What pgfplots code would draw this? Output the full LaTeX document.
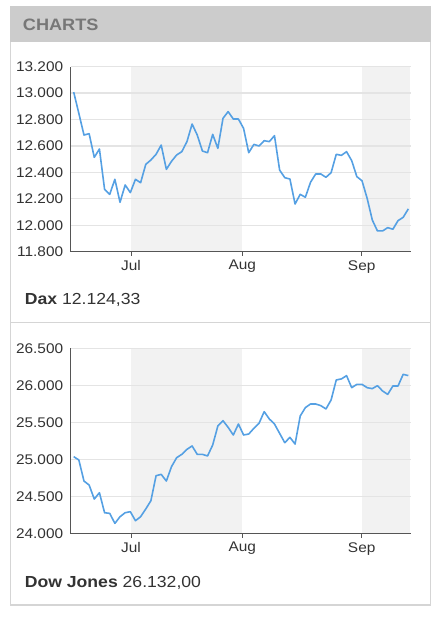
\documentclass[border=0pt]{standalone}
\usepackage{fontspec}
\setmainfont{Liberation Sans}[FakeStretch=1.1]
\usepackage{pgfplots}
\pgfplotsset{compat=1.18}
\usepackage{pgfplotstable}

\definecolor{linecol}{HTML}{55A0E3}
\definecolor{gridcol}{HTML}{E4E4E4}
\definecolor{bandcol}{HTML}{F2F2F2}
\definecolor{axiscol}{HTML}{555555}
\definecolor{txtcol}{HTML}{333333}
\definecolor{headcol}{HTML}{CCCCCC}
\definecolor{headtxt}{HTML}{777777}
\definecolor{bordercol}{HTML}{D5D5D5}

\pgfplotstableread{
i v
0 13008
1 12847
2 12683
3 12693
4 12514
5 12577
6 12272
7 12234
8 12348
9 12174
10 12305
11 12247
12 12348
13 12322
14 12461
15 12494
16 12537
17 12607
18 12423
19 12484
20 12532
21 12557
22 12633
23 12766
24 12683
25 12562
26 12549
27 12688
28 12582
29 12809
30 12860
31 12804
32 12804
33 12733
34 12549
35 12612
36 12600
37 12640
38 12633
39 12678
40 12418
41 12360
42 12350
43 12161
44 12234
45 12212
46 12325
47 12388
48 12388
49 12363
50 12398
51 12537
52 12529
53 12557
54 12489
55 12368
56 12337
57 12204
58 12040
59 11957
60 11957
61 11982
62 11970
63 12035
64 12060
65 12124
}\daxtable

\pgfplotstableread{
i v
0 25039
1 24994
2 24710
3 24656
4 24467
5 24553
6 24283
7 24274
8 24139
9 24229
10 24283
11 24297
12 24175
13 24229
14 24333
15 24445
16 24782
17 24800
18 24710
19 24904
20 25025
21 25070
22 25137
23 25183
24 25070
25 25070
26 25048
27 25196
28 25452
29 25524
30 25434
31 25331
32 25479
33 25331
34 25344
35 25421
36 25488
37 25646
38 25547
39 25479
40 25353
41 25227
42 25299
43 25209
44 25587
45 25700
46 25749
47 25749
48 25727
49 25682
50 25803
51 26073
52 26087
53 26131
54 25969
55 26014
56 26014
57 25969
58 25956
59 25996
60 25924
61 25879
62 25992
63 25992
64 26149
65 26132
}\dowtable

\pgfplotsset{
  panelaxis/.style={
    set layers,
    scale only axis,
    width=340.3pt,
    anchor=south west,
    xmin=-0.58, xmax=65.52,
    axis x line*=bottom,
    axis y line*=left,
    axis line style={-, draw=axiscol, line width=1.4pt},
    xtick={11.14,32.76,55.94},
    xticklabels={Jul,Aug,Sep},
    tick align=outside,
    major tick length=4pt,
    xtick style={draw=axiscol, line width=1pt},
    ytick style={draw=none},
    scaled y ticks=false,
    ymajorgrids,
    grid style={draw=gridcol, line width=1.3pt},
    tick label style={font=\fontsize{14}{14}\selectfont, text=txtcol},
    xticklabel style={yshift=-1pt},
    /pgf/number format/1000 sep={.},
    /pgf/number format/assume math mode=true,
  },
  band/.style={draw=none, fill=bandcol, forget plot, on layer=axis background},
}

\begin{document}
\begin{tikzpicture}
\path (0pt,0pt) rectangle (440pt,618pt);
% header
\fill[headcol] (9.5pt,612pt) rectangle (431pt,576.3pt);
\node[anchor=west, text=headtxt, font=\fontsize{16.5}{16.5}\selectfont\bfseries, inner sep=0pt] at (22.7pt,593.5pt) {CHARTS};
% borders
\draw[bordercol, line width=1.5pt] (10.5pt,576.3pt) -- (10.5pt,13pt) -- (430.5pt,13pt) -- (430.5pt,576.3pt);
\draw[bordercol, line width=1.5pt] (10.5pt,295.5pt) -- (430.5pt,295.5pt);

% Dax
\begin{axis}[panelaxis, at={(70.7pt,366.3pt)}, height=185pt,
  ymin=11800, ymax=13200, ytick={11800,12000,...,13200}]
  \addplot[band] coordinates {(11.14,11800) (11.14,13200) (32.76,13200) (32.76,11800)};
  \addplot[band] coordinates {(55.94,11800) (55.94,13200) (65.3,13200) (65.3,11800)};
  \addplot[linecol, line width=1.6pt, no markers, line join=round] table[x=i,y=v] {\daxtable};
\end{axis}
\node[anchor=west, text=txtcol, font=\fontsize{16}{16}\selectfont, inner sep=0pt] at (24.7pt,318pt) {\textbf{Dax} 12.124,33};

% Dow
\begin{axis}[panelaxis, at={(70.7pt,84.3pt)}, height=185.4pt,
  ymin=24000, ymax=26500, ytick={24000,24500,...,26500}]
  \addplot[band] coordinates {(11.14,24000) (11.14,26500) (32.76,26500) (32.76,24000)};
  \addplot[band] coordinates {(55.94,24000) (55.94,26500) (65.3,26500) (65.3,24000)};
  \addplot[linecol, line width=1.6pt, no markers, line join=round] table[x=i,y=v] {\dowtable};
\end{axis}
\node[anchor=west, text=txtcol, font=\fontsize{16}{16}\selectfont, inner sep=0pt] at (24.7pt,35.3pt) {\textbf{Dow Jones} 26.132,00};
\end{tikzpicture}
\end{document}
